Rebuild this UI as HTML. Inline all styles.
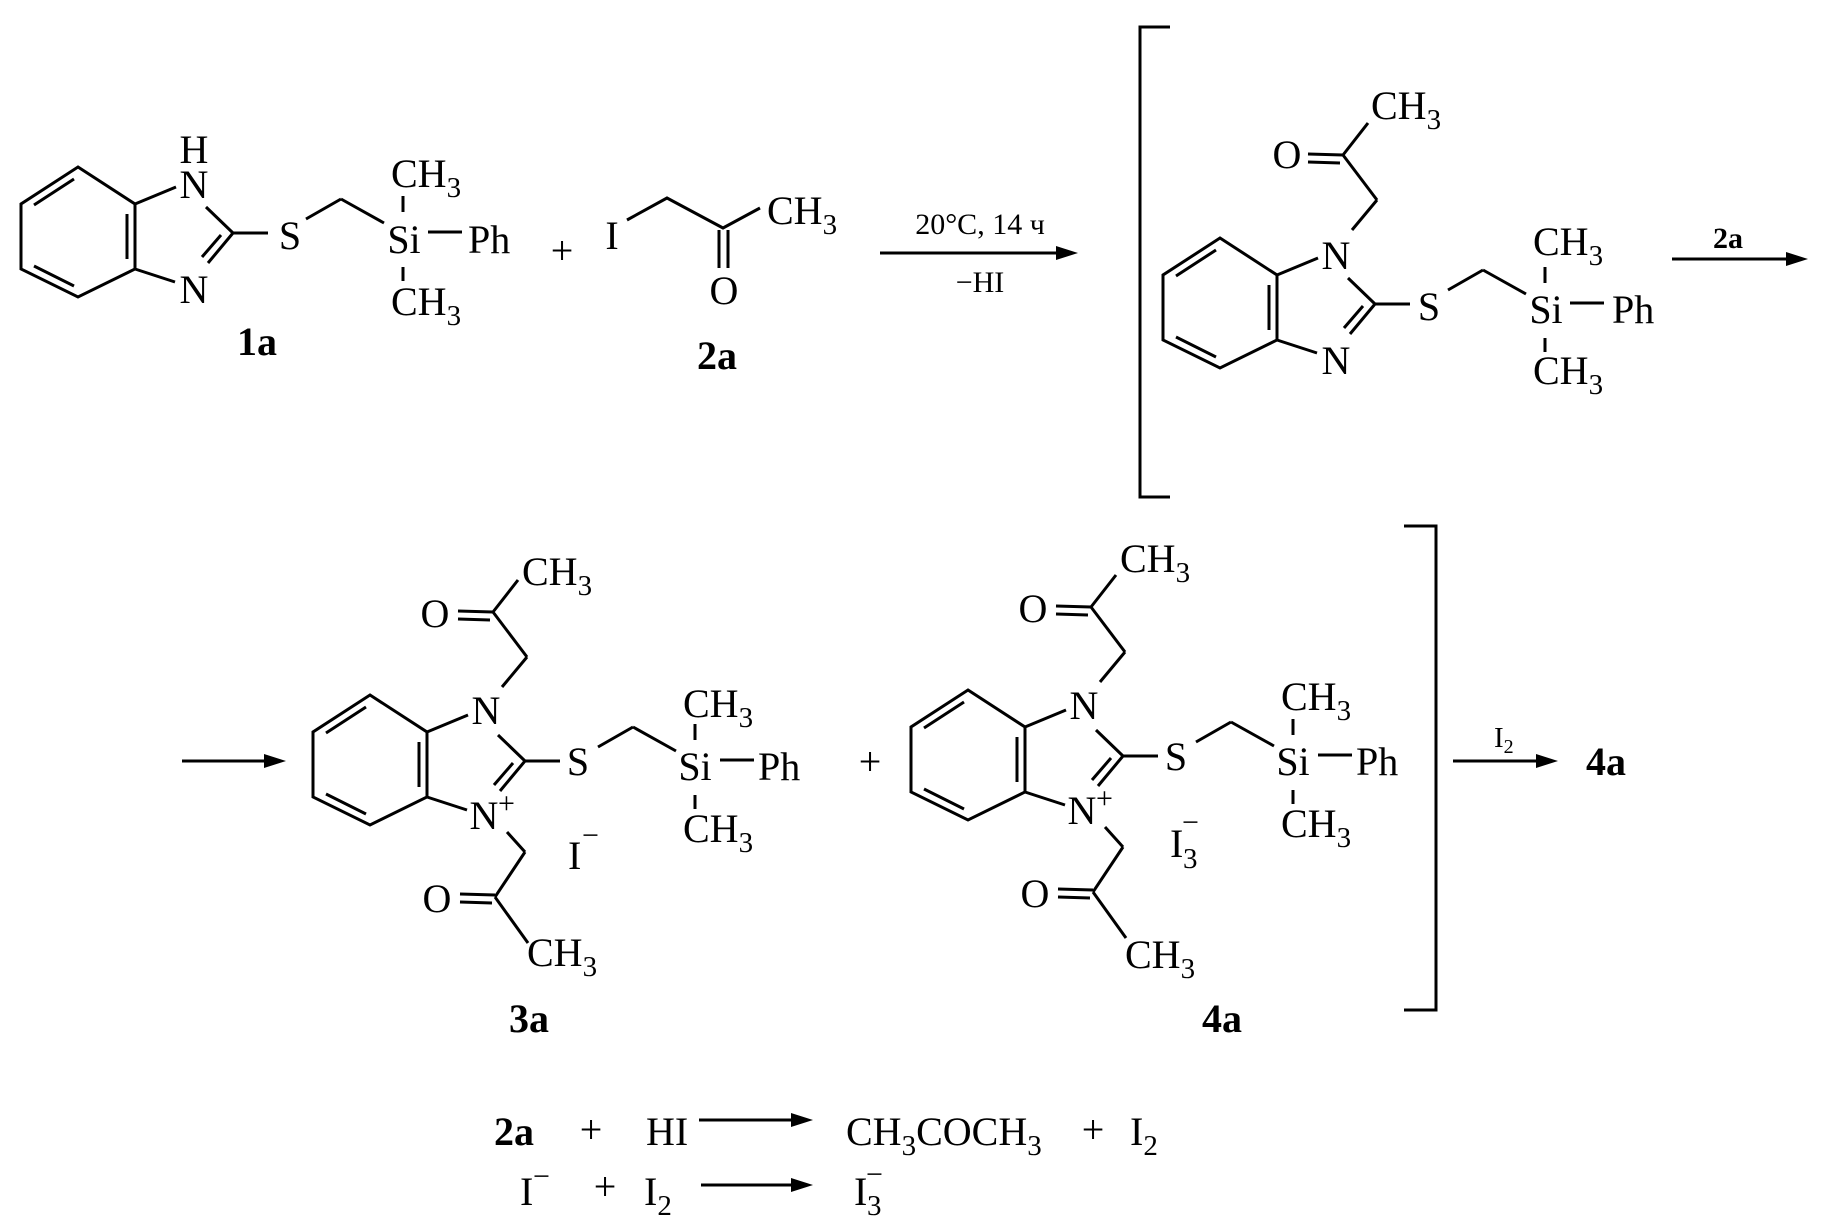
<!DOCTYPE html>
<html><head><meta charset="utf-8"><style>
html,body{margin:0;padding:0;background:#fff;}
svg{display:block;}
text{font-family:"Liberation Serif",serif;font-size:40px;fill:#000;}
.b{font-weight:bold;}
.s{font-size:29px;}
.m{text-anchor:middle;}
line,polyline,polygon.r{stroke:#000;stroke-width:3;fill:none;}
</style></head><body>
<svg width="1833" height="1218" viewBox="0 0 1833 1218" xmlns="http://www.w3.org/2000/svg">
<defs>
<g id="core">
<polygon class="r" points="0,0 57,37 57,102 0,130 -57,102 -57,37"/>
<line x1="-44" y1="38" x2="-4" y2="12"/>
<line x1="-44" y1="99" x2="-4" y2="119"/>
<line x1="49" y1="47" x2="49" y2="92"/>
<line x1="57" y1="37" x2="98" y2="20"/>
<line x1="128" y1="40" x2="155" y2="66"/>
<line x1="155" y1="66" x2="130" y2="96"/>
<line x1="143" y1="68" x2="124" y2="90"/>
<line x1="57" y1="102" x2="97" y2="115"/>
<line x1="155" y1="66" x2="190" y2="66"/>
<line x1="228" y1="52" x2="263" y2="32"/>
<line x1="263" y1="32" x2="306" y2="56"/>
<line x1="325" y1="29" x2="325" y2="45"/>
<line x1="325" y1="100" x2="325" y2="114"/>
<line x1="350" y1="65" x2="384" y2="65"/>
</g>
<g id="top">
<line x1="132" y1="-8" x2="157" y2="-38"/>
<line x1="157" y1="-38" x2="123" y2="-83"/>
<line x1="123" y1="-83" x2="148" y2="-115"/>
<line x1="88" y1="-84" x2="123" y2="-83"/>
<line x1="88" y1="-76" x2="120" y2="-75"/>
</g>
<g id="bot">
<line x1="137" y1="137" x2="155" y2="157"/>
<line x1="155" y1="157" x2="125" y2="202"/>
<line x1="125" y1="202" x2="158" y2="248"/>
<line x1="90" y1="199" x2="125" y2="200"/>
<line x1="90" y1="207" x2="122" y2="208"/>
</g>
</defs>

<!-- 1a -->
<g transform="translate(78,167)">
<use href="#core"/>
<text class="m" x="116" y="-4">H</text>
<text class="m" x="116" y="31">N</text>
<text class="m" x="116" y="136">N</text>
<text class="m" x="212" y="82">S</text>
<text class="m" x="326" y="86">Si</text>
<text x="390" y="86">Ph</text>
<text x="313" y="20">CH<tspan class="s" dy="10">3</tspan></text>
<text x="313" y="148">CH<tspan class="s" dy="10">3</tspan></text>
</g>
<text class="b m" x="257" y="355">1a</text>
<text class="m" x="562" y="264">+</text>

<!-- 2a -->
<text class="m" x="612" y="249">I</text>
<polyline points="627,220 667,198 723,228 760,208"/>
<line x1="719" y1="230" x2="719" y2="268"/>
<line x1="728" y1="230" x2="728" y2="268"/>
<text class="m" x="724" y="304">O</text>
<text x="767" y="224">CH<tspan class="s" dy="10">3</tspan></text>
<text class="b m" x="717" y="369">2a</text>

<!-- arrow 1 -->
<line x1="880" y1="253" x2="1060" y2="253"/>
<polygon points="1078,253 1056,246 1056,260" fill="#000"/>
<text class="m" x="980" y="234" style="font-size:30px">20°C, 14 ч</text>
<text class="m" x="980" y="292" style="font-size:30px">−HI</text>

<!-- bracket left -->
<polyline points="1170,27 1140,27 1140,497 1170,497"/>

<!-- intermediate -->
<g transform="translate(1220,238)">
<use href="#core"/>
<use href="#top"/>
<text class="m" x="116" y="31">N</text>
<text class="m" x="116" y="136">N</text>
<text class="m" x="209" y="82">S</text>
<text class="m" x="326" y="85">Si</text>
<text x="392" y="85">Ph</text>
<text x="313" y="17">CH<tspan class="s" dy="10">3</tspan></text>
<text x="313" y="146">CH<tspan class="s" dy="10">3</tspan></text>
<text class="m" x="67" y="-70">O</text>
<text x="151" y="-119">CH<tspan class="s" dy="10">3</tspan></text>
</g>

<!-- arrow 2 -->
<text class="b m" x="1728" y="248" style="font-size:30px">2a</text>
<line x1="1672" y1="259" x2="1790" y2="259"/>
<polygon points="1808,259 1786,252 1786,266" fill="#000"/>

<!-- row 2 arrow -->
<line x1="182" y1="761" x2="268" y2="761"/>
<polygon points="286,761 264,754 264,768" fill="#000"/>

<!-- 3a -->
<g transform="translate(370,695)">
<use href="#core"/>
<use href="#top"/>
<use href="#bot"/>
<text class="m" x="116" y="29">N</text>
<text class="m" x="114" y="134">N</text>
<text x="128" y="118" style="font-size:30px">+</text>
<text class="m" x="208" y="80">S</text>
<text class="m" x="325" y="85">Si</text>
<text x="388" y="85">Ph</text>
<text x="313" y="22">CH<tspan class="s" dy="10">3</tspan></text>
<text x="313" y="147">CH<tspan class="s" dy="10">3</tspan></text>
<text class="m" x="65" y="-68">O</text>
<text x="152" y="-110">CH<tspan class="s" dy="10">3</tspan></text>
<text class="m" x="67" y="217">O</text>
<text x="157" y="271">CH<tspan class="s" dy="10">3</tspan></text>
<text x="198" y="174">I</text>
<text x="212" y="150" style="font-size:30px">−</text>
</g>
<text class="b m" x="529" y="1032">3a</text>

<text class="m" x="870" y="775">+</text>

<!-- 4a -->
<g transform="translate(968,690)">
<use href="#core"/>
<use href="#top"/>
<use href="#bot"/>
<text class="m" x="116" y="29">N</text>
<text class="m" x="114" y="134">N</text>
<text x="128" y="118" style="font-size:30px">+</text>
<text class="m" x="208" y="80">S</text>
<text class="m" x="325" y="85">Si</text>
<text x="388" y="85">Ph</text>
<text x="313" y="20">CH<tspan class="s" dy="10">3</tspan></text>
<text x="313" y="147">CH<tspan class="s" dy="10">3</tspan></text>
<text class="m" x="65" y="-68">O</text>
<text x="152" y="-118">CH<tspan class="s" dy="10">3</tspan></text>
<text class="m" x="67" y="217">O</text>
<text x="157" y="278">CH<tspan class="s" dy="10">3</tspan></text>
<text x="202" y="167">I</text>
<text x="215" y="178" class="s">3</text>
<text x="214" y="142" style="font-size:30px">−</text>
</g>
<text class="b m" x="1222" y="1032">4a</text>

<!-- bracket right -->
<polyline points="1404,526 1436,526 1436,1010 1404,1010"/>

<!-- arrow I2 -->
<line x1="1453" y1="761" x2="1540" y2="761"/>
<polygon points="1558,761 1536,754 1536,768" fill="#000"/>
<text x="1494" y="747" style="font-size:29px">I<tspan style="font-size:20px" dy="6">2</tspan></text>
<text class="b m" x="1606" y="775">4a</text>

<!-- bottom equations -->
<text class="b" x="494" y="1145">2a</text>
<text class="m" x="591" y="1143">+</text>
<text x="646" y="1145">HI</text>
<line x1="699" y1="1120" x2="795" y2="1120"/>
<polygon points="813,1120 791,1113 791,1127" fill="#000"/>
<text x="846" y="1145">CH<tspan class="s" dy="10">3</tspan><tspan dy="-10">COCH</tspan><tspan class="s" dy="10">3</tspan></text>
<text class="m" x="1093" y="1143">+</text>
<text x="1130" y="1145">I<tspan class="s" dy="10">2</tspan></text>

<text x="520" y="1205">I</text>
<text x="533" y="1186" style="font-size:30px">−</text>
<text class="m" x="605" y="1200">+</text>
<text x="644" y="1205">I<tspan class="s" dy="10">2</tspan></text>
<line x1="701" y1="1185" x2="795" y2="1185"/>
<polygon points="813,1185 791,1178 791,1192" fill="#000"/>
<text x="854" y="1205">I</text>
<text x="867" y="1215" class="s">3</text>
<text x="866" y="1184" style="font-size:30px">−</text>
</svg>
</body></html>
